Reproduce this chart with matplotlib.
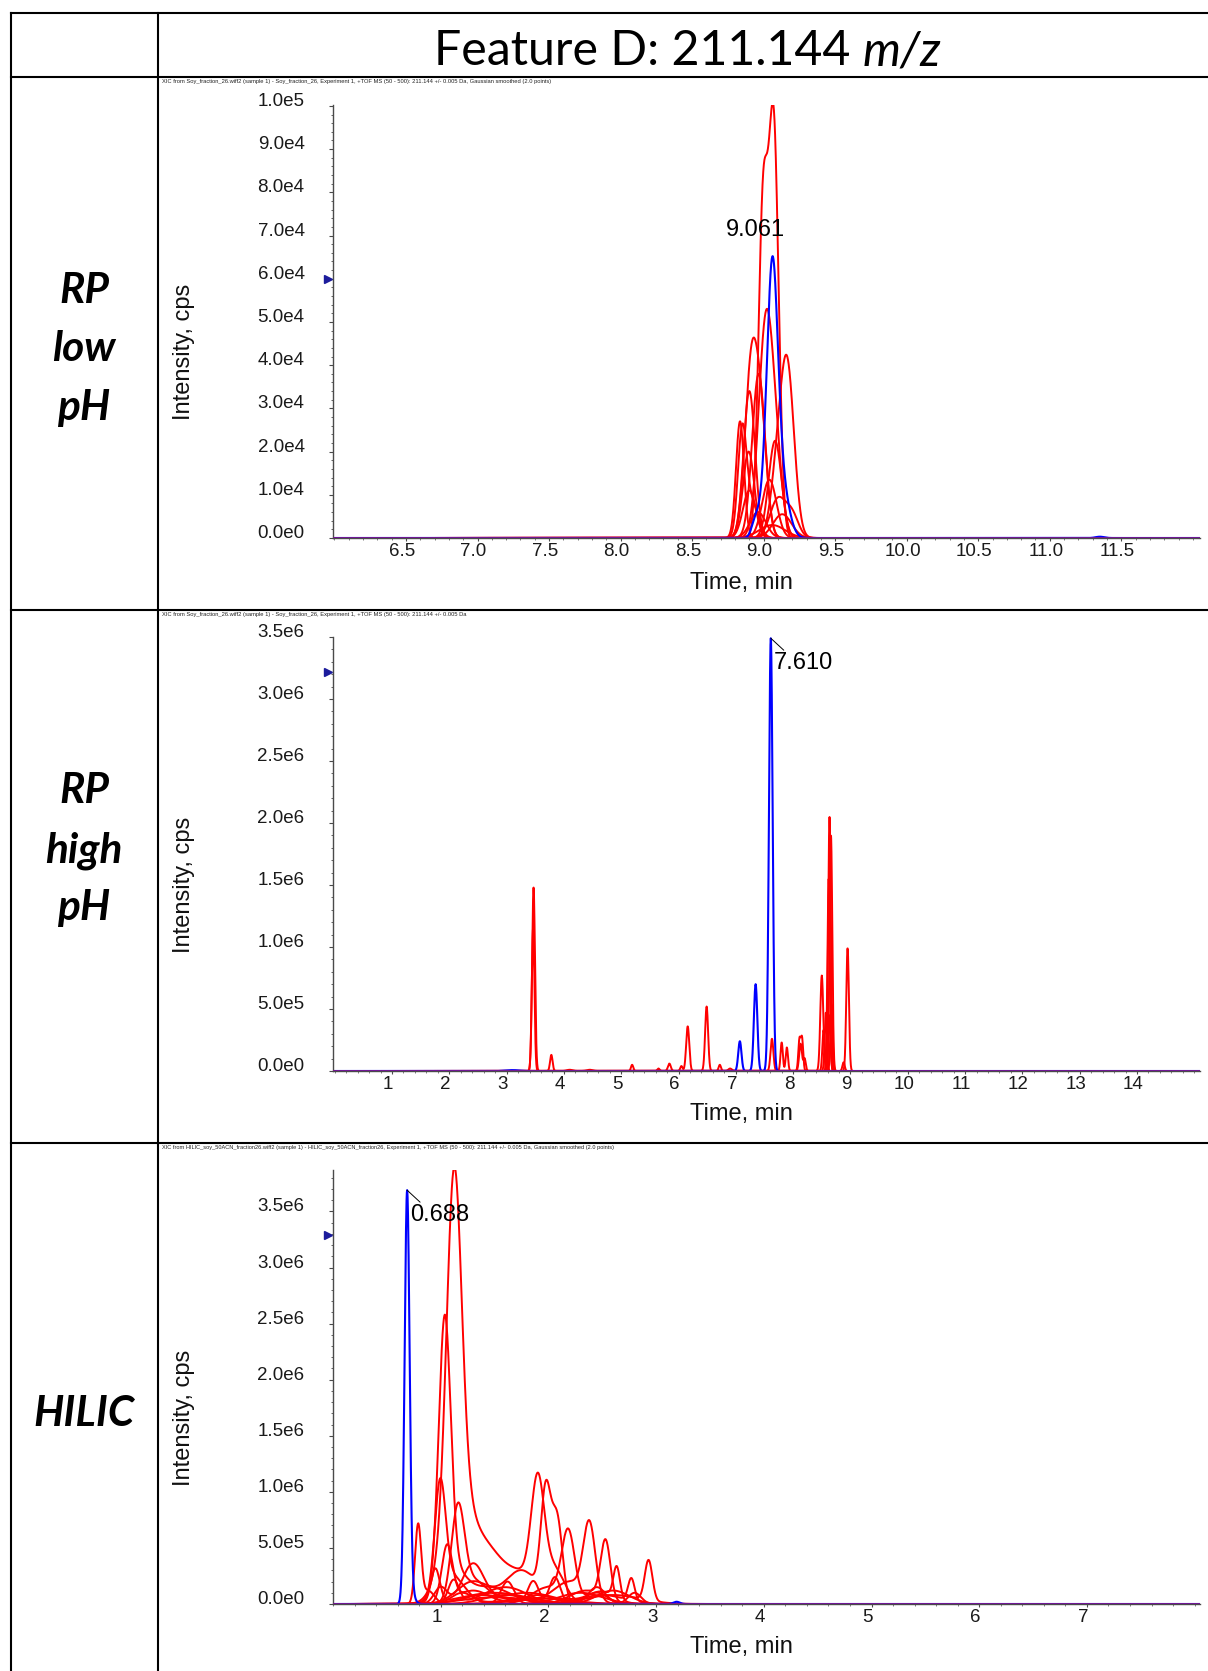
import numpy as np
import matplotlib
matplotlib.use("Agg")
import matplotlib.pyplot as plt
from matplotlib.lines import Line2D
from matplotlib.ticker import FixedLocator, MultipleLocator, NullFormatter
import matplotlib.transforms as mtransforms

# ---------------------------------------------------------------------------
# Extracted-ion chromatograms, 211.144 m/z.
# Each trace is a list of peaks: (retention time [min], height [cps], sigma [min])
# ---------------------------------------------------------------------------
rp_low_blue = [(9.061, 5.8e4, 0.037), (9.125, 1.2e4, 0.05), (9.00, 0.6e4, 0.04),
               (8.94, 3.0e3, 0.025), (11.35, 3.0e2, 0.03)]
rp_low_red = [
    [(9.07, 9.5e4, 0.035), (8.995, 7.4e4, 0.032)],
    [(9.014, 4.8e4, 0.05), (9.085, 1.5e4, 0.045)],
    [(8.915, 4.0e4, 0.045), (8.985, 2.2e4, 0.04)],
    [(8.965, 3.8e4, 0.045)],
    [(8.90, 3.4e4, 0.04)],
    [(9.165, 3.9e4, 0.048), (9.09, 1.2e4, 0.045)],
    [(8.835, 2.7e4, 0.028)],
    [(8.85, 2.4e4, 0.03), (8.92, 0.8e4, 0.045)],
    [(9.08, 2.25e4, 0.045)],
    [(8.895, 2.0e4, 0.04)],
    [(9.04, 1.35e4, 0.05)],
    [(8.90, 1.1e4, 0.045)],
    [(9.10, 0.9e4, 0.055), (9.20, 0.5e4, 0.045)],
    [(8.96, 0.6e4, 0.055)],
    [(9.13, 0.55e4, 0.065)],
    [(9.06, 0.3e4, 0.09)],
]
rp_low_apex = 9.061
rp_low_marker = 6.0e4
rp_low_xticks = [6.5, 7.0, 7.5, 8.0, 8.5, 9.0, 9.5, 10.0, 10.5, 11.0, 11.5]
rp_low_xticklabels = ["6.5", "7.0", "7.5", "8.0", "8.5", "9.0", "9.5",
                      "10.0", "10.5", "11.0", "11.5"]
rp_low_yticks = [0, 1e4, 2e4, 3e4, 4e4, 5e4, 6e4, 7e4, 8e4, 9e4, 1e5]
rp_low_yticklabels = ["0.0e0", "1.0e4", "2.0e4", "3.0e4", "4.0e4", "5.0e4",
                      "6.0e4", "7.0e4", "8.0e4", "9.0e4", "1.0e5"]

rp_high_blue = [(7.610, 3.49e6, 0.032), (7.345, 0.70e6, 0.03), (7.07, 0.24e6, 0.028),
                (3.10, 0.007e6, 0.12)]
rp_high_red = [
    [(3.47, 1.48e6, 0.025), (3.78, 0.13e6, 0.022)],
    [(3.462, 1.15e6, 0.023)],
    [(6.16, 0.36e6, 0.027), (5.84, 0.06e6, 0.025), (6.05, 0.04e6, 0.02)],
    [(6.49, 0.52e6, 0.026), (6.72, 0.05e6, 0.02), (5.19, 0.05e6, 0.02)],
    [(7.63, 0.26e6, 0.025), (7.80, 0.23e6, 0.02), (7.89, 0.19e6, 0.02)],
    [(8.11, 0.25e6, 0.02), (8.155, 0.26e6, 0.02)],
    [(8.50, 0.77e6, 0.026), (8.63, 0.45e6, 0.02)],
    [(8.635, 2.05e6, 0.023)],
    [(8.66, 1.90e6, 0.023)],
    [(8.62, 1.55e6, 0.021)],
    [(8.67, 0.54e6, 0.02), (8.53, 0.33e6, 0.02)],
    [(8.95, 0.99e6, 0.023)],
    [(8.57, 0.47e6, 0.02), (8.88, 0.07e6, 0.02)],
    [(8.13, 0.22e6, 0.025), (8.20, 0.10e6, 0.02)],
    [(4.10, 0.01e6, 0.05), (4.45, 0.01e6, 0.05), (5.65, 0.02e6, 0.02), (6.90, 0.02e6, 0.03)],
]
rp_high_apex = 7.610
rp_high_marker = 3.22e6
rp_high_xticks = list(range(1, 15))
rp_high_xticklabels = [str(v) for v in range(1, 15)]
rp_high_yticks = [0, 5e5, 1e6, 1.5e6, 2e6, 2.5e6, 3e6, 3.5e6]
rp_high_yticklabels = ["0.0e0", "5.0e5", "1.0e6", "1.5e6", "2.0e6", "2.5e6",
                       "3.0e6", "3.5e6"]

hilic_blue = [(0.688, 3.66e6, 0.023), (0.73, 0.08e6, 0.03), (3.19, 0.02e6, 0.03)]
hilic_red = [
    [(1.124, 2.9e6, 0.068), (1.15, 0.95e6, 0.13), (1.42, 0.45e6, 0.15),
     (1.90, 0.92e6, 0.06), (1.75, 0.25e6, 0.15), (2.05, 0.3e6, 0.1)],
    [(1.037, 2.3e6, 0.055), (1.10, 0.3e6, 0.12), (1.45, 0.15e6, 0.2)],
    [(0.995, 0.95e6, 0.05), (1.10, 0.25e6, 0.12), (1.90, 0.05e6, 0.3)],
    [(1.16, 0.80e6, 0.06), (1.30, 0.2e6, 0.12), (1.65, 0.05e6, 0.2)],
    [(0.79, 0.68e6, 0.028), (0.88, 0.12e6, 0.06)],
    [(1.06, 0.50e6, 0.05), (1.30, 0.12e6, 0.15), (1.90, 0.08e6, 0.15)],
    [(1.975, 0.92e6, 0.045), (2.08, 0.74e6, 0.05), (1.75, 0.3e6, 0.15), (1.30, 0.2e6, 0.15)],
    [(2.184, 0.60e6, 0.06), (2.00, 0.15e6, 0.15), (2.45, 0.1e6, 0.1)],
    [(2.38, 0.65e6, 0.055), (2.20, 0.2e6, 0.15), (1.60, 0.08e6, 0.2)],
    [(2.53, 0.52e6, 0.045), (2.35, 0.12e6, 0.15)],
    [(2.634, 0.28e6, 0.03), (2.50, 0.1e6, 0.12), (2.00, 0.05e6, 0.3)],
    [(2.77, 0.20e6, 0.03), (2.50, 0.08e6, 0.2)],
    [(2.93, 0.36e6, 0.035), (2.60, 0.08e6, 0.25)],
    [(1.30, 0.35e6, 0.1), (1.00, 0.15e6, 0.06), (1.80, 0.1e6, 0.25)],
    [(1.12, 0.21e6, 0.05), (1.60, 0.15e6, 0.2), (2.60, 0.12e6, 0.15)],
    [(1.62, 0.20e6, 0.06), (1.20, 0.1e6, 0.1), (2.30, 0.1e6, 0.2)],
    [(1.86, 0.20e6, 0.05), (2.06, 0.24e6, 0.05), (1.40, 0.08e6, 0.2)],
    [(2.45, 0.15e6, 0.08), (1.50, 0.06e6, 0.3), (2.80, 0.1e6, 0.06)],
    [(0.95, 0.30e6, 0.04), (1.50, 0.1e6, 0.3)],
]
hilic_apex = 0.688
hilic_marker = 3.29e6
hilic_xticks = list(range(1, 8))
hilic_xticklabels = [str(v) for v in range(1, 8)]
hilic_yticks = rp_high_yticks
hilic_yticklabels = rp_high_yticklabels

row_labels = [["RP", "low", "pH"], ["RP", "high", "pH"], ["HILIC"]]
headers = [
    "XIC from Soy_fraction_26.wiff2 (sample 1) - Soy_fraction_26, Experiment 1, "
    "+TOF MS (50 - 500): 211.144 +/- 0.005 Da, Gaussian smoothed (2.0 points)",
    "XIC from Soy_fraction_26.wiff2 (sample 1) - Soy_fraction_26, Experiment 1, "
    "+TOF MS (50 - 500): 211.144 +/- 0.005 Da",
    "XIC from HILIC_soy_50ACN_fraction26.wiff2 (sample 1) - HILIC_soy_50ACN_fraction26, "
    "Experiment 1, +TOF MS (50 - 500): 211.144 +/- 0.005 Da, Gaussian smoothed (2.0 points)",
]

# ---------------------------------------------------------------------------
W, H, DPI = 1208, 1671, 100
plt.rcParams["font.family"] = ["Liberation Sans", "DejaVu Sans"]
fig = plt.figure(figsize=(W / DPI, H / DPI), dpi=DPI)
fig.patch.set_facecolor("white")


def fx(px):
    return px / W


def fy(py):
    return 1 - py / H


def trace(t, peaks):
    y = np.zeros_like(t)
    for c, h, s in peaks:
        y += h * np.exp(-0.5 * ((t - c) / s) ** 2)
    return y


# table grid
grid_kw = dict(color="black", lw=1.5, transform=fig.transFigure, zorder=10)
for yy in (13, 77, 610, 1143):
    fig.add_artist(Line2D([fx(11), 1.0], [fy(yy), fy(yy)], **grid_kw))
for xx in (11, 158):
    fig.add_artist(Line2D([fx(xx), fx(xx)], [fy(13), 0.0], **grid_kw))

panels = [
    dict(top=105, bottom=538, xlim=(5.99, 12.05), ylim=(0, 1.002e5),
         red=rp_low_red, blue=rp_low_blue, apex=rp_low_apex, marker=rp_low_marker,
         xt=rp_low_xticks, xtl=rp_low_xticklabels, yt=rp_low_yticks, ytl=rp_low_yticklabels,
         xminor=0.1, yminor=2e3, xlab_y=-0.104, apex_style="above"),
    dict(top=637, bottom=1071, xlim=(-0.03, 15.1), ylim=(0, 3.5e6),
         red=rp_high_red, blue=rp_high_blue, apex=rp_high_apex, marker=rp_high_marker,
         xt=rp_high_xticks, xtl=rp_high_xticklabels, yt=rp_high_yticks, ytl=rp_high_yticklabels,
         xminor=0.2, yminor=1e5, xlab_y=-0.099, apex_style="right"),
    dict(top=1170, bottom=1604, xlim=(0.0, 8.05), ylim=(0, 3.87e6),
         red=hilic_red, blue=hilic_blue, apex=hilic_apex, marker=hilic_marker,
         xt=hilic_xticks, xtl=hilic_xticklabels, yt=hilic_yticks, ytl=hilic_yticklabels,
         xminor=0.2, yminor=1e5, xlab_y=-0.099, apex_style="right"),
]

spine_col = "#4a4a4a"
axes = []
for p in panels:
    ax = fig.add_axes([fx(333), fy(p["bottom"]), fx(1200) - fx(333),
                       (p["bottom"] - p["top"]) / H])
    axes.append(ax)
    t = np.linspace(p["xlim"][0], p["xlim"][1], 6000)
    for peaks in p["red"]:
        ax.plot(t, trace(t, peaks), color="#ff0000", lw=1.4, solid_joinstyle="round")
    yb = trace(t, p["blue"])
    ax.plot(t, yb, color="#0000ff", lw=1.5, solid_joinstyle="round")
    ax.axhline(0, color="#7d1a8c", lw=2.0, zorder=5)

    ax.set_xlim(*p["xlim"])
    ax.set_ylim(*p["ylim"])
    for s in ("top", "right"):
        ax.spines[s].set_visible(False)
    for s in ("left", "bottom"):
        ax.spines[s].set_color(spine_col)
        ax.spines[s].set_linewidth(1.0)

    ax.xaxis.set_major_locator(FixedLocator(p["xt"]))
    ax.set_xticklabels(p["xtl"])
    ax.xaxis.set_minor_locator(MultipleLocator(p["xminor"]))
    ax.yaxis.set_major_locator(FixedLocator(p["yt"]))
    ax.set_yticklabels(p["ytl"])
    ax.yaxis.set_minor_locator(MultipleLocator(p["yminor"]))
    ax.xaxis.set_minor_formatter(NullFormatter())
    ax.yaxis.set_minor_formatter(NullFormatter())

    ax.tick_params(axis="y", which="major", direction="out", length=3, width=0.8,
                   color=spine_col, pad=17.5, labelsize=13.5, labelcolor="#1a1a1a")
    ax.tick_params(axis="y", which="minor", direction="out", length=1.5, width=0.6,
                   color=spine_col)
    ax.tick_params(axis="x", which="major", direction="out", length=2.5, width=0.8,
                   color=spine_col, pad=1, labelsize=13.5, labelcolor="#1a1a1a")
    ax.tick_params(axis="x", which="minor", direction="out", length=1.2, width=0.5,
                   color=spine_col)
    for lab in ax.get_yticklabels():
        lab.set_verticalalignment("baseline")
    for lab in ax.get_xticklabels():
        lab.set_transform(lab.get_transform() +
                          mtransforms.ScaledTranslation(-0.04, 0, fig.dpi_scale_trans))

    ax.set_xlabel("Time, min", fontsize=17, color="#111111")
    ax.xaxis.set_label_coords(0.4706, p["xlab_y"])
    ax.xaxis.label.set_verticalalignment("center")
    ax.set_ylabel("Intensity, cps", fontsize=17, color="#111111")
    ax.yaxis.set_label_coords(-0.172, 0.43)
    ax.yaxis.label.set_verticalalignment("center")

    # small arrow on the intensity axis
    ax.plot([-0.006], [p["marker"]], marker=">", ms=6, color="#1c1c9c",
            transform=ax.get_yaxis_transform(), clip_on=False)

    # apex label of the highlighted trace
    ymax = trace(np.array([p["apex"]]), p["blue"])[0]
    label = f"{p['apex']:.3f}"
    if p["apex_style"] == "above":
        ax.annotate(label, xy=(p["apex"], ymax), xytext=(-17, 20),
                    textcoords="offset pixels", ha="center", va="baseline",
                    fontsize=17, color="black")
    else:
        ax.annotate("", xy=(p["apex"], ymax), xytext=(13, -12),
                    textcoords="offset pixels",
                    arrowprops=dict(arrowstyle="-", color="black", lw=0.7,
                                    shrinkA=0, shrinkB=0))
        ax.annotate(label, xy=(p["apex"], ymax), xytext=(3, -31),
                    textcoords="offset pixels", ha="left", va="baseline",
                    fontsize=17, color="black")

# headline and row labels
fig.canvas.draw()
renderer = fig.canvas.get_renderer()


def width_px(txt):
    return txt.get_window_extent(renderer).width


def fit_width(txt, target_px):
    txt.set_fontsize(txt.get_fontsize() * target_px / width_px(txt))


# headline: upright part + italic unit, scaled together to span 434..942 px
title_a = fig.text(fx(434), fy(65), "Feature D: 211.144 ", family="Lato",
                   fontsize=34, ha="left", va="baseline", color="black")
title_b = fig.text(0, fy(65), "m/z", family="Lato", style="italic",
                   fontsize=34, ha="left", va="baseline", color="black")
scale = 508 / (width_px(title_a) + width_px(title_b))
title_a.set_fontsize(34 * scale)
title_b.set_fontsize(34 * scale)
title_b.set_x(fx(434 + width_px(title_a)))

header_y = [82, 615, 1147]
header_w = [382, 300, 450]
for txt, yy, ww in zip(headers, header_y, header_w):
    h = fig.text(fx(162), fy(yy), txt, fontsize=4, ha="left", va="center",
                 color="#222222")
    fit_width(h, ww)

probe = fig.text(0, 0, "HILIC", family="Lato", weight="bold", style="italic",
                 fontsize=28)
fit_width(probe, 101)
row_size = probe.get_fontsize()
probe.remove()

row_baselines = [[303, 361, 420], [803, 862, 920], [1426]]
for words, bases in zip(row_labels, row_baselines):
    for w_, b in zip(words, bases):
        fig.text(fx(84), fy(b), w_, family="Lato", weight="bold", style="italic",
                 fontsize=row_size, ha="center", va="baseline", color="black")

fig.savefig("out.png", dpi=DPI, facecolor="white")
